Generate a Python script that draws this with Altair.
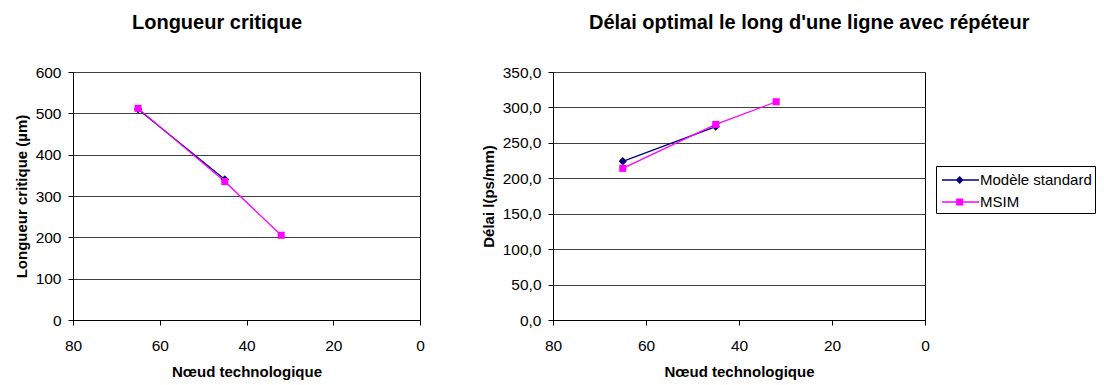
import altair as alt
import pandas as pd

# ---- data ----
series = ["Modèle standard", "MSIM"]
series_colors = ["#000080", "#FF00FF"]

nodes_std = [65, 45]
nodes_msim = [65, 45, 32]

lc_std = [510, 340]
lc_msim = [512, 335, 205]

delay_std = [224, 273]
delay_msim = [214, 276, 308]

x_ticks = [80, 60, 40, 20, 0]
lc_ticks = [0, 100, 200, 300, 400, 500, 600]
delay_ticks = [0, 50, 100, 150, 200, 250, 300, 350]

FONT = "Liberation Sans"

# legend glyphs: line segment + marker (custom SVG paths, unit space, r = 11px)
legend_paths = [
    "M-0.73,-0.06H2.64V0.06H-0.73Z M0.88,-0.36L1.24,0L0.88,0.36L0.52,0Z",
    "M-0.73,-0.06H2.64V0.06H-0.73Z M0.56,-0.32H1.2V0.32H0.56Z",
]


def make_df(n_a, v_a, n_b, v_b):
    rows = []
    for n, v in zip(n_a, v_a):
        rows.append({"node": n, "value": v, "series": series[0]})
    for n, v in zip(n_b, v_b):
        rows.append({"node": n, "value": v, "series": series[1]})
    return pd.DataFrame(rows)


def panel(df, y_title, y_ticks, y_max, label_expr, title_text, title_dx, width, with_legend):
    x_enc = alt.X(
        "node:Q",
        scale=alt.Scale(domain=[0, 80], reverse=True, nice=False),
        axis=alt.Axis(values=x_ticks, grid=False, title="Nœud technologique",
                      format="d", labelFlush=False),
    )
    y_enc = alt.Y(
        "value:Q",
        scale=alt.Scale(domain=[0, y_max], nice=False),
        axis=alt.Axis(values=y_ticks, grid=True, title=y_title, labelExpr=label_expr,
                      labelFlush=False),
    )
    base = alt.Chart(df)
    layers = []
    for s, c in zip(series, series_colors):
        layers.append(
            base.mark_line(strokeWidth=1.3, color=c).encode(x=x_enc, y=y_enc)
            .transform_filter(alt.datum.series == s)
        )
    layers.append(
        base.mark_point(shape="diamond", filled=True, size=70, opacity=1,
                        color=series_colors[0]).encode(x=x_enc, y=y_enc)
        .transform_filter(alt.datum.series == series[0])
    )
    layers.append(
        base.mark_point(shape="square", filled=True, size=50, opacity=1,
                        color=series_colors[1]).encode(x=x_enc, y=y_enc)
        .transform_filter(alt.datum.series == series[1])
    )
    if with_legend:
        leg = alt.Legend(
            title=None, orient="none", legendX=863, legendY=94,
            strokeColor="black", fillColor="white", padding=3,
            symbolSize=22 * 22, labelFont=FONT, labelFontSize=15,
            labelColor="black", labelOffset=19, rowPadding=3,
            symbolStrokeWidth=0,
        )
        color_scale = alt.Scale(domain=series, range=series_colors)
        leg_layer = base.mark_point(filled=True, opacity=1, strokeWidth=0).encode(
            x=x_enc, y=y_enc,
            color=alt.Color("series:N", scale=color_scale, legend=leg),
            shape=alt.Shape("series:N", scale=alt.Scale(domain=series, range=legend_paths),
                            legend=leg),
        ).transform_filter(alt.datum.value < -1)
        layers.append(leg_layer)
    return alt.layer(*layers).properties(
        width=width, height=248,
        title=alt.TitleParams(title_text, anchor="start", frame="group", dx=title_dx,
                              font=FONT, fontSize=20, fontWeight="bold", color="black",
                              offset=32),
    )


left = panel(make_df(nodes_std, lc_std, nodes_msim, lc_msim),
             "Longueur critique (µm)", lc_ticks, 600,
             "format(datum.value, 'd')", "Longueur critique", 59, 347, False)
right = panel(make_df(nodes_std, delay_std, nodes_msim, delay_msim),
              "Délai l(ps/mm)", delay_ticks, 350,
              "replace(format(datum.value, '.1f'), '.', ',')",
              "Délai optimal le long d'une ligne avec répéteur", 36, 372, True)

chart = alt.hconcat(left, right, spacing=55).properties(
    padding={"left": 5, "top": 4, "right": 0, "bottom": 0},
    background="white",
).configure_view(
    stroke="black", strokeWidth=1,
).configure_axis(
    labelFont=FONT, labelFontSize=15.5, labelColor="black",
    titleFont=FONT, titleFontSize=15, titleFontWeight="bold", titleColor="black",
    domainColor="black", tickColor="black", tickSize=5, labelPadding=7,
    gridColor="#404040", gridWidth=1,
).configure_axisY(titlePadding=6).configure_axisX(titlePadding=11, labelPadding=13)

chart.save("out.html", embed_options={"renderer": "svg", "actions": False})
